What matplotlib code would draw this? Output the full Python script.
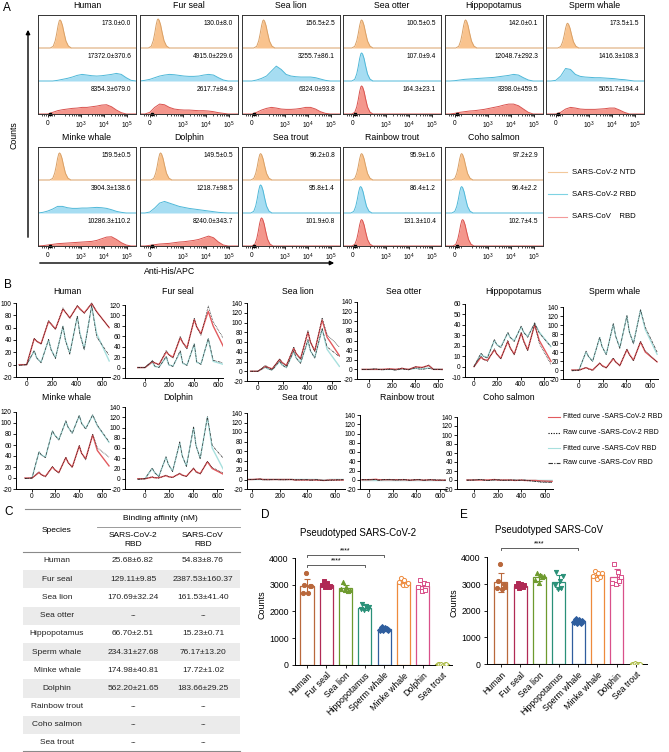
import numpy as np
import matplotlib.pyplot as plt

plt.rcParams['font.family'] = ['Liberation Sans', 'DejaVu Sans']
plt.rcParams['mathtext.default'] = 'regular'
plt.rcParams['axes.linewidth'] = 0.7
plt.rcParams['axes.unicode_minus'] = False

W, H = 669, 752
nan = float('nan')

# ---------------- A: flow cytometry ----------------
species_a = ["Human", "Fur seal", "Sea lion", "Sea otter", "Hippopotamus", "Sperm whale",
             "Minke whale", "Dolphin", "Sea trout", "Rainbow trout", "Coho salmon"]
mfi_ntd = ["173.0±0.0", "130.0±8.0", "156.5±2.5", "100.5±0.5", "142.0±0.1", "173.5±1.5",
           "159.5±0.5", "149.5±0.5", "96.2±0.8", "95.9±1.6", "97.2±2.9"]
mfi_rbd2 = ["17372.0±370.6", "4915.0±229.6", "3255.7±86.1", "107.0±9.4", "12048.7±292.3",
            "1416.3±108.3", "3904.3±138.6", "1218.7±98.5", "95.8±1.4", "86.4±1.2", "96.4±2.2"]
mfi_rbd1 = ["8354.3±679.0", "2617.7±84.9", "6324.0±93.8", "164.3±23.1", "8398.0±459.5",
            "5051.7±194.4", "10286.3±110.2", "8240.0±343.7", "101.9±0.8", "131.3±10.4", "102.7±4.5"]

# histogram shapes: (peak centre, height) for single narrow peaks, else heights on XA grid
XA = np.linspace(0, 1, 21)
PEAK_DX = [-0.10, -0.07, -0.05, -0.035, -0.02, -0.008, 0, 0.01, 0.025, 0.04, 0.06, 0.085, 0.115]
PEAK_Y = [0, 0.06, 0.25, 0.5, 0.8, 0.97, 1, 0.96, 0.8, 0.55, 0.25, 0.07, 0]

hist_ntd = [(0.225, 0.85), (0.185, 0.88), (0.22, 0.85), (0.19, 0.85), (0.21, 0.85), (0.22, 0.75),
            (0.22, 0.82), (0.21, 0.82), (0.19, 0.8), (0.19, 0.8), (0.17, 0.8)]
hist_rbd2 = [
    [0, 0, 0, 0, 0.02, 0.05, 0.08, 0.12, 0.17, 0.2, 0.18, 0.16, 0.15, 0.16, 0.18, 0.2, 0.23, 0.2, 0.1, 0.02, 0],
    [0, 0.02, 0.05, 0.1, 0.15, 0.18, 0.2, 0.19, 0.17, 0.15, 0.14, 0.14, 0.15, 0.18, 0.2, 0.18, 0.1, 0.03, 0, 0, 0],
    [0, 0, 0, 0.03, 0.08, 0.15, 0.3, 0.45, 0.35, 0.2, 0.15, 0.13, 0.12, 0.12, 0.12, 0.1, 0.06, 0.02, 0, 0, 0],
    (0.19, 0.85),
    [0, 0, 0.01, 0.03, 0.05, 0.06, 0.07, 0.08, 0.09, 0.1, 0.11, 0.13, 0.15, 0.17, 0.2, 0.18, 0.1, 0.03, 0, 0, 0],
    [0, 0, 0.02, 0.15, 0.38, 0.35, 0.2, 0.14, 0.12, 0.11, 0.1, 0.1, 0.09, 0.08, 0.07, 0.05, 0.04, 0.02, 0, 0, 0],
    [0, 0.02, 0.06, 0.12, 0.2, 0.2, 0.16, 0.14, 0.14, 0.15, 0.15, 0.16, 0.17, 0.16, 0.14, 0.1, 0.05, 0.02, 0, 0, 0],
    [0, 0, 0.03, 0.15, 0.3, 0.35, 0.3, 0.25, 0.2, 0.17, 0.14, 0.12, 0.1, 0.08, 0.06, 0.04, 0.02, 0.01, 0, 0, 0],
    (0.19, 0.85), (0.18, 0.8), (0.17, 0.8)]
hist_rbd1 = [
    [0, 0, 0, 0.05, 0.1, 0.13, 0.15, 0.17, 0.18, 0.2, 0.2, 0.22, 0.24, 0.27, 0.28, 0.22, 0.12, 0.04, 0, 0, 0],
    [0, 0, 0.05, 0.2, 0.3, 0.28, 0.2, 0.15, 0.13, 0.12, 0.12, 0.11, 0.1, 0.1, 0.09, 0.07, 0.04, 0.02, 0, 0, 0],
    [0, 0, 0, 0.05, 0.12, 0.17, 0.2, 0.18, 0.15, 0.14, 0.14, 0.15, 0.17, 0.2, 0.2, 0.15, 0.07, 0.02, 0, 0, 0],
    (0.19, 0.85),
    [0, 0, 0.02, 0.05, 0.07, 0.09, 0.1, 0.12, 0.14, 0.17, 0.2, 0.23, 0.27, 0.3, 0.3, 0.25, 0.15, 0.05, 0, 0, 0],
    [0, 0, 0, 0.05, 0.15, 0.2, 0.18, 0.15, 0.14, 0.14, 0.14, 0.15, 0.16, 0.18, 0.18, 0.12, 0.05, 0, 0, 0, 0],
    [0, 0.01, 0.03, 0.05, 0.07, 0.08, 0.09, 0.1, 0.11, 0.12, 0.13, 0.14, 0.17, 0.22, 0.27, 0.28, 0.2, 0.1, 0.03, 0, 0],
    [0, 0, 0.02, 0.04, 0.06, 0.07, 0.08, 0.1, 0.12, 0.13, 0.15, 0.17, 0.2, 0.25, 0.3, 0.25, 0.12, 0.03, 0, 0, 0],
    (0.2, 0.85), (0.19, 0.8), (0.18, 0.8)]

# ---------------- B: binding kinetics ----------------
species_b = species_a
T = [-60, 0, 60, 80, 115, 175, 195, 230, 290, 310, 345, 405, 425, 460, 520, 560, 660]
fit2 = [
    [0, 0, 42, 38, 34, 70, 66, 58, 90, 85, 76, 95, 91, 84, 99, 86, 60],
    [0, 0, 11, 9, 6, 30, 25, 20, 57, 48, 38, 92, 78, 65, 108, 80, 33],
    [0, 0, 10, 8, 5, 24, 18, 12, 47, 36, 26, 80, 60, 42, 105, 70, 32],
    [0, 0, 0, 0, 0, 1, 1, 0, 2, 1, 0, 5, 5, 4, 8, 0, 0],
    [nan, 0, 9, 7, 6, 16, 12, 8, 24, 18, 12, 32, 25, 16, 40, 25, 5],
    [0, 0, 5, 3, 0, 15, 10, 5, 25, 18, 10, 45, 35, 22, 62, 40, 18],
    [0, 0, 10, 6, 3, 20, 15, 10, 37, 28, 20, 58, 45, 35, 78, 50, 22],
    [0, 0, 3, 2, 2, 6, 4, 3, 10, 7, 5, 20, 14, 10, 33, 20, 8],
    [0, 0, 1, 0, 0, 0, 0, 0, 0, -1, -1, -1, -1, -1, -2, -1, -1],
    [0, 0, 1, 0, 0, 0, 0, 0, 0, 0, -1, 0, 0, -1, 0, -1, -1],
    [0, 0, 0, 0, 0, 1, 0, 0, 0, 0, -1, 0, -1, -1, -1, -2, -3]]
raw2 = [
    [-1, 0, 43, 38, 33, 72, 66, 57, 92, 85, 75, 96, 90, 83, 100, 85, 60],
    [0, 0, 14, 9, 5, 33, 25, 18, 60, 48, 35, 95, 78, 62, 118, 88, 50],
    [0, 0, 12, 8, 4, 26, 18, 11, 50, 36, 24, 84, 60, 40, 110, 75, 50],
    [0, 0, 1, 0, -1, 1, 0, -1, 3, 1, -1, 6, 4, 3, 9, 0, -1],
    [nan, 0, 10, 7, 5, 17, 12, 7, 25, 18, 11, 33, 24, 15, 41, 22, 2],
    [-2, -1, 6, 2, -1, 16, 9, 4, 27, 17, 9, 47, 34, 20, 64, 42, 18],
    [-1, 0, 11, 6, 2, 21, 15, 9, 38, 28, 19, 59, 45, 33, 80, 55, 38],
    [-1, 0, 4, 2, 1, 7, 4, 2, 11, 7, 4, 21, 13, 9, 34, 22, 10],
    [0, 0, 1, 0, -1, 0, 0, -1, 0, -1, -1, -1, -2, -1, -2, -2, -1],
    [0, 0, 1, -1, 0, 1, 0, -1, 0, 0, -1, 1, 0, -1, 0, -1, -1],
    [-1, 0, 1, 0, -1, 1, 0, -1, 0, 0, -1, 0, -1, -2, -3, -5, -6]]
fit1 = [
    [0, 0, 22, 11, 4, 40, 25, 11, 62, 40, 19, 78, 52, 26, 95, 50, 6],
    [0, 0, 10, 2, 1, 20, 5, 3, 30, 8, 5, 45, 10, 7, 55, 12, 5],
    [0, 0, 8, 5, 3, 20, 13, 8, 40, 27, 18, 62, 42, 28, 86, 45, 10],
    [0, 0, 0, 0, 0, 0, 0, 0, 1, 1, 0, 2, 2, 1, 3, 1, 0],
    [nan, 0, 12, 10, 9, 25, 21, 19, 32, 28, 25, 38, 33, 29, 41, 33, 19],
    [0, 0, 40, 30, 20, 72, 52, 35, 102, 75, 50, 120, 85, 60, 133, 90, 35],
    [0, 0, 47, 42, 38, 85, 78, 70, 103, 92, 82, 113, 100, 90, 114, 95, 65],
    [0, 0, 20, 12, 5, 42, 28, 15, 70, 45, 25, 100, 65, 40, 120, 60, 15],
    [0, 0, 0, 0, 0, 0, 0, 0, 0, 0, 0, 0, 0, 0, -1, 0, 0],
    [0, 0, 0, 0, 0, 0, 0, 0, 0, 0, 0, 0, 0, 0, 0, 0, 0],
    [0, 0, 0, 0, 0, 0, 0, 0, 0, 0, 0, 0, 0, -1, -1, -1, -1]]
raw1 = [
    [-1, 0, 23, 11, 3, 41, 24, 10, 63, 39, 17, 79, 50, 24, 96, 45, 15],
    [0, 0, 12, 3, 0, 22, 6, 2, 33, 9, 4, 46, 11, 6, 56, 14, 8],
    [0, 0, 9, 5, 2, 21, 13, 7, 42, 27, 16, 65, 42, 27, 88, 50, 30],
    [0, 0, 1, 0, -1, 0, 0, -2, 1, 0, -1, 3, 1, 0, 2, 0, -1],
    [nan, 0, 13, 10, 8, 26, 21, 18, 33, 28, 24, 39, 33, 28, 42, 32, 19],
    [-1, 0, 42, 30, 19, 73, 52, 34, 103, 75, 48, 121, 85, 58, 134, 95, 40],
    [-1, 0, 48, 42, 37, 86, 78, 69, 104, 92, 81, 114, 99, 89, 115, 96, 66],
    [-1, 0, 21, 12, 4, 43, 28, 14, 72, 45, 24, 101, 65, 39, 121, 65, 38],
    [0, 0, 1, -1, 0, 0, -1, 0, 0, -1, 0, 0, -1, 0, -2, -1, 0],
    [0, 1, 0, -1, 0, 1, 0, 0, 1, 0, -1, 0, 1, -1, 0, 0, -1],
    [0, 0, 1, 0, -1, 0, 1, 0, -1, 0, 0, -1, 0, -1, -3, -4, -5]]

# ---------------- C: binding affinity table ----------------
species_c = ["Human", "Fur seal", "Sea lion", "Sea otter", "Hippopotamus", "Sperm whale",
             "Minke whale", "Dolphin", "Rainbow trout", "Coho salmon", "Sea trout"]
kd_cov2 = ["25.68±6.82", "129.11±9.85", "170.69±32.24", "--", "66.70±2.51", "234.31±27.68",
           "174.98±40.81", "562.20±21.65", "--", "--", "--"]
kd_cov = ["54.83±8.76", "2387.53±160.37", "161.53±41.40", "--", "15.23±0.71", "76.17±13.20",
          "17.72±1.02", "183.66±29.25", "--", "--", "--"]

# ---------------- D/E: pseudovirus ----------------
bar_species = ["Human", "Fur seal", "Sea lion", "Hippopotamus", "Sperm whale",
               "Minke whale", "Dolphin", "Sea trout"]
bar_colors = ["#B9683C", "#B02A55", "#6E9A2E", "#2A9078", "#2F5E9E", "#EE8A3C", "#D9508A", "#A9B93E"]
bar_markers = ["o", "s", "^", "v", "D", "o", "s", "h"]
cov2_counts = [[2700, 2980, 3440, 2680, 2960, 2950], [3000, 3130, 2920, 3050, 2900, 2950],
               [2850, 3090, 2800, 2900, 2780, 2820], [2100, 2270, 2050, 2200, 2080, 2150],
               [1320, 1400, 1290, 1370, 1340, 1300], [3100, 3250, 2980, 3180, 3000, 3050],
               [2900, 3190, 2750, 3050, 2800, 3020], [20, 10, 15, 5, 10, 20]]
cov_counts = [[2850, 3100, 3750, 2800, 3000, 2900], [2920, 3050, 2850, 3000, 2880, 2950],
              [3150, 3400, 3050, 3350, 3250, 3300], [2950, 3450, 2800, 3100, 2850, 3300],
              [1580, 1700, 1530, 1650, 1550, 1600], [3300, 3480, 3200, 3420, 3250, 3400],
              [3050, 3750, 3000, 3450, 3100, 3250], [15, 10, 20, 5, 12, 18]]

fig = plt.figure(figsize=(W / 100, H / 100), dpi=100)


def rect(x0, y0, x1, y1):
    return [x0 / W, 1 - y1 / H, (x1 - x0) / W, (y1 - y0) / H]


over = fig.add_axes([0, 0, 1, 1], zorder=10)
over.set_xlim(0, W)
over.set_ylim(H, 0)
over.axis('off')
over.patch.set_alpha(0)

for lab, (lx, ly) in zip("ABCDE", [(3, 8), (4, 285), (4, 512), (261, 515), (460, 515)]):
    over.text(lx, ly, lab, fontsize=8.5, ha='left', va='center')

# ---- A
row_fill = ["#F9C38E", "#A6DDF2", "#F4968C"]
row_edge = ["#D9A066", "#4FB8D8", "#D9534F"]
a_left = [38, 140, 242, 343, 445, 546, 38, 140, 242, 343, 445]
a_top = [15] * 6 + [147] * 5
minor_a = [0.44 + (d - 3 + np.log10(k)) * 0.235 for d in (2, 3, 4) for k in range(2, 10)]
minor_a += [0.04, 0.06, 0.08, 0.12, 0.14, 0.16]

for i, sp in enumerate(species_a):
    x0, y0 = a_left[i], a_top[i]
    ax = fig.add_axes(rect(x0, y0, x0 + 98, y0 + 99))
    ax.set_xlim(0, 1)
    ax.set_ylim(0, 3)
    for k, (hist, mfi) in enumerate(zip([hist_ntd[i], hist_rbd2[i], hist_rbd1[i]],
                                        [mfi_ntd[i], mfi_rbd2[i], mfi_rbd1[i]])):
        base = 2 - k
        if isinstance(hist, tuple):
            xs = [0] + [hist[0] + d for d in PEAK_DX] + [1]
            ys = [0] + [hist[1] * v for v in PEAK_Y] + [0]
        else:
            xs, ys = XA, hist
        xs = np.asarray(xs, float)
        ys = np.asarray(ys, float) + base
        ax.fill_between(xs, base, ys, color=row_fill[k], lw=0)
        ax.plot(xs, ys, color=row_edge[k], lw=0.7)
        ax.text(0.95, base + 0.74, mfi, fontsize=4.8, ha='right', va='center')
    ax.set_yticks([])
    ax.set_xticks([0.10, 0.44, 0.675, 0.91])
    ax.set_xticklabels(['0', '$10^3$', '$10^4$', '$10^5$'], fontsize=4.8)
    ax.set_xticks(minor_a, minor=True)
    ax.tick_params(axis='x', which='major', length=2, width=0.6, pad=2)
    ax.tick_params(axis='x', which='minor', length=1.2, width=0.5)
    for s in ax.spines.values():
        s.set_color('#333333')
        s.set_linewidth(0.7)
    ax.plot([0.12], [0.0], marker='s', ms=2, color='black', clip_on=False)
    over.text(x0 + 49, y0 - 9, sp, fontsize=6.3, ha='center', va='center')

over.annotate('', xy=(28, 27), xytext=(28, 240),
              arrowprops=dict(arrowstyle='-|>', lw=1.0, color='black', mutation_scale=6))
over.annotate('', xy=(337, 263), xytext=(37, 263),
              arrowprops=dict(arrowstyle='-|>', lw=1.0, color='black', mutation_scale=6))
over.text(14, 135, "Counts", rotation=90, fontsize=6.3, ha='center', va='center')
over.text(170, 272, "Anti-His/APC", fontsize=6.3, ha='center', va='center')
leg_a = ["SARS-CoV-2 NTD", "SARS-CoV-2 RBD", "SARS-CoV    RBD"]
for lab, c, ly in zip(leg_a, ["#F2C89B", "#7ED3E3", "#F39A9A"], [172, 194, 217]):
    over.plot([548, 567], [ly, ly], color=c, lw=0.8)
    over.text(572, ly, lab, fontsize=5.6, ha='left', va='center')

# ---- B
# spine x, x of tick 0, x of tick 600, axis end, top tick value, its y, bottom value, its y, step
b_layout = [(16, 26.7, 101.7, 110, 100, 303, -20, 377, 20),
            (125, 145, 218, 223, 120, 305, -20, 378, 20),
            (247, 258, 332, 340, 140, 303, -20, 381, 20),
            (357, 369, 438, 443, 140, 302, -20, 379, 20),
            (465, 474, 544, 554, 60, 304, -10, 377, 10),
            (563, 579, 650, 658, 140, 307, -20, 379, 20),
            (16, 32, 102, 110, 120, 412, -20, 489, 20),
            (125, 145, 217, 223, 140, 407, -20, 489, 20),
            (247, 252, 335, 345, 140, 413, -20, 489, 20),
            (360, 369, 440, 446, 140, 415, -20, 489, 20),
            (457, 474, 545, 553, 140, 417, -20, 489, 20)]
c_fit2, c_fit1 = "#E25A5E", "#A8E0DE"
ls_raw2 = (0, (1.0, 1.3))
ls_raw1 = (0, (4, 1.2, 1, 1.2))
for i, sp in enumerate(species_b):
    sx, t0, t6, xe, yt, ytp, yb, ybp, step = b_layout[i]
    upx = 600 / (t6 - t0)
    upy = (yt - yb) / (ybp - ytp)
    ax = fig.add_axes(rect(sx, ytp - 4, xe, ybp))
    ax.set_xlim((sx - t0) * upx, (xe - t0) * upx)
    ax.set_ylim(yb, yt + 4 * upy)
    ax.plot(T, fit1[i], color=c_fit1, lw=1.0)
    ax.plot(T, fit2[i], color=c_fit2, lw=1.0)
    ax.plot(T, raw1[i], color='#333333', lw=0.5, ls=ls_raw1)
    ax.plot(T, raw2[i], color='black', lw=0.5, ls=ls_raw2)
    ax.spines[['top', 'right']].set_visible(False)
    ax.spines['left'].set_bounds(yb, yt)
    ax.set_yticks(np.arange(yb, yt + 1, step))
    ax.set_xticks([0, 200, 400, 600])
    ax.tick_params(labelsize=4.8, length=2, width=0.6, pad=1)
    ty = 291 if i < 6 else 398
    over.text((sx + xe) / 2 + 4, ty, sp, fontsize=6.3, ha='center', va='center')

leg_b = ["Fitted curve -SARS-CoV-2 RBD", "Raw curve -SARS-CoV-2 RBD",
         "Fitted curve -SARS-CoV RBD", "Raw curve -SARS-CoV RBD"]
leg_style = [(c_fit2, '-'), ('black', ls_raw2), (c_fit1, '-'), ('#333333', ls_raw1)]
for lab, (c, ls), ly in zip(leg_b, leg_style, [417, 433, 448, 463]):
    over.plot([548, 560], [ly, ly], color=c, lw=0.8, ls=ls)
    over.text(563, ly, lab, fontsize=5, ha='left', va='center')

# ---- C table
line_c = '#8a8a8a'
over.plot([25, 240], [509, 509], color=line_c, lw=0.8)
over.text(160, 518, "Binding affinity (nM)", fontsize=6, ha='center', va='center')
over.plot([97, 240], [527, 527], color=line_c, lw=0.6)
over.text(57, 531, "Species", fontsize=6, ha='center', va='center')
over.text(133, 540, "SARS-CoV-2\nRBD", fontsize=6, ha='center', va='center', linespacing=1.4)
over.text(203, 540, "SARS-CoV\nRBD", fontsize=6, ha='center', va='center', linespacing=1.4)
over.plot([23, 240], [552, 552], color=line_c, lw=0.8)
for j, (sp, a, b) in enumerate(zip(species_c, kd_cov2, kd_cov)):
    yc = 561 + j * 18.2
    if j % 2 == 1:
        over.add_patch(plt.Rectangle((23, yc - 9.1), 217, 18.2, color='#EBEBEB', lw=0))
    over.text(57, yc, sp, fontsize=6, ha='center', va='center', color='#222222')
    over.text(133, yc, a, fontsize=6, ha='center', va='center', color='#222222')
    over.text(203, yc, b, fontsize=6, ha='center', va='center', color='#222222')
over.plot([23, 240], [751, 751], color=line_c, lw=0.8)

# ---- D / E
OFFS = [-0.22, -0.13, -0.04, 0.05, 0.14, 0.22]


def bar_panel(box, xlim, ylim_top, counts, title, title_x, brackets):
    ax = fig.add_axes(rect(*box))
    n = len(bar_species)
    x = np.arange(n)
    means = [np.mean(c) for c in counts]
    sds = [np.std(c, ddof=1) for c in counts]
    for j in range(n):
        col = bar_colors[j]
        ax.bar(x[j], means[j], width=0.68, facecolor='white', edgecolor=col, lw=0.9, zorder=1)
        ax.errorbar(x[j], means[j], yerr=sds[j], color=col, capsize=2, lw=0.8, capthick=0.8, zorder=2)
        face = col if j < 5 else 'white'
        ax.scatter([x[j] + o for o in OFFS], counts[j], s=9, marker=bar_markers[j],
                   facecolor=face, edgecolor=col, lw=0.7, zorder=3)
    for a, b, y in brackets:
        ax.plot([a, a, b, b], [y - 70, y, y, y - 70], color='#444444', lw=0.6)
        ax.text((a + b) / 2, y + 25, "****", fontsize=5, ha='center', va='bottom')
    ax.set_xlim(*xlim)
    ax.set_ylim(0, ylim_top)
    ax.spines[['top', 'right']].set_visible(False)
    ax.spines['left'].set_bounds(0, 4000)
    ax.set_yticks([0, 1000, 2000, 3000, 4000])
    ax.set_xticks(x)
    ax.set_xticklabels(bar_species, rotation=45, ha='right', rotation_mode='anchor')
    ax.tick_params(labelsize=6.3, length=2.5, width=0.6, pad=2)
    ax.set_ylabel("Counts", fontsize=6.5, labelpad=2)
    ax.set_title(title, fontsize=7)
    ax.title.set_position((title_x, 1.0))
    return ax


bar_panel((295, 544.7, 452, 664.7), (-0.62, 7.52), 4500, cov2_counts,
          "Pseudotyped SARS-CoV-2", 0.4, [(0, 4, 4125), (0, 3, 3750)])
bar_panel((487, 541.4, 647, 664), (-0.72, 7.57), 4600, cov_counts,
          "Pseudotyped SARS-CoV", 0.39, [(0, 4, 4350)])

fig.savefig('out.png', dpi=100)
